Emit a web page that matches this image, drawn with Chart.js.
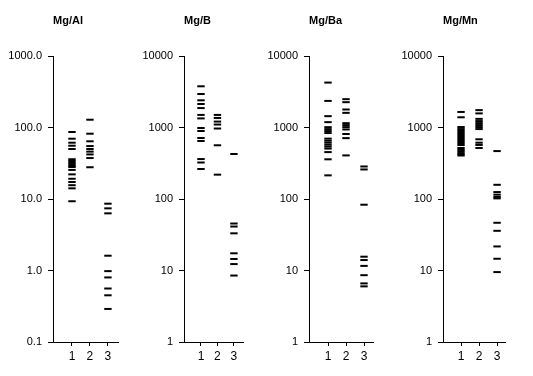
<!DOCTYPE html>
<html>
<head>
<meta charset="utf-8">
<script src="https://cdn.jsdelivr.net/npm/chart.js@4/dist/chart.umd.min.js"></script>
<style>
  html, body { margin: 0; padding: 0; background: #fff; }
  body { width: 533px; height: 376px; position: relative; overflow: hidden; }
  canvas { position: absolute; top: 0; }
</style>
</head>
<body>
<canvas id="c1" width="133" height="376" style="left:0px"></canvas>
<canvas id="c2" width="133" height="376" style="left:133px"></canvas>
<canvas id="c3" width="133" height="376" style="left:266px"></canvas>
<canvas id="c4" width="134" height="376" style="left:399px"></canvas>
<script>
// ---- data ----
const categories = [1, 2, 3];
const xTickLabels = ['1', '2', '3'];
const titles = ['Mg/Al', 'Mg/B', 'Mg/Ba', 'Mg/Mn'];
const yTicksAl = [0.1, 1, 10, 100, 1000];
const yTicksOther = [1, 10, 100, 1000, 10000];

const mgAl1 = [86.5, 69.7, 61.3, 55.6, 50, 36, 34, 32, 30.5, 29, 28, 25.5, 22.1, 19.2, 17.3, 15.6, 14.1, 9.3];
const mgAl2 = [128.5, 81.9, 64.1, 55, 50, 46, 42, 37.4, 27.8];
const mgAl3 = [8.6, 7.4, 6.3, 1.61, 0.98, 0.80, 0.56, 0.45, 0.29];

const mgB1 = [3770, 2940, 2400, 2130, 1870, 1500, 1340, 984, 893, 713, 647, 362, 324, 263];
const mgB2 = [1500, 1360, 1210, 1100, 968, 564, 219];
const mgB3 = [426, 45.4, 41.2, 33.1, 17.4, 14.5, 12.3, 8.5];

const mgBa1 = [4250, 2355, 1440, 1188, 1011, 949, 891, 836, 699, 655, 615, 576, 541, 507, 453, 359, 214];
const mgBa2 = [2490, 2260, 1786, 1603, 1150, 1080, 1012, 939, 811, 710, 407];
const mgBa3 = [285, 259, 83.2, 15.6, 14.0, 11.6, 8.6, 6.6, 6.0];

const mgMn1 = [1650, 1390, 1015, 951, 893, 837, 785, 736, 690, 647, 607, 569, 517, 485, 455, 426, 406];
const mgMn2 = [1750, 1575, 1320, 1230, 1153, 1082, 1015, 951, 684, 613, 570, 517];
const mgMn3 = [468, 158, 125, 115, 107, 102, 46.5, 35.9, 21.7, 14.6, 9.5];

// ---- rendering ----
const panels = [
  { id: 'c1', title: titles[0], series: [mgAl1, mgAl2, mgAl3], yTicks: yTicksAl, fmt: v => v.toFixed(1),
    padR: 15, axisW: 53, xMin: -0.056, xMax: 3.56 },
  { id: 'c2', title: titles[1], series: [mgB1, mgB2, mgB3], yTicks: yTicksOther, fmt: v => String(v),
    padR: 23, axisW: 51, xMin: -0.03, xMax: 3.55 },
  { id: 'c3', title: titles[2], series: [mgBa1, mgBa2, mgBa3], yTicks: yTicksOther, fmt: v => String(v),
    padR: 26, axisW: 43, xMin: -0.056, xMax: 3.5 },
  { id: 'c4', title: titles[3], series: [mgMn1, mgMn2, mgMn3], yTicks: yTicksOther, fmt: v => String(v),
    padR: 28, axisW: 44, xMin: 0, xMax: 3.44 }
];

const FONT = 'Liberation Sans, Arial, Helvetica, sans-serif';

panels.forEach(p => {
  const datasets = p.series.map((vals, i) => ({
    data: vals.map(v => ({ x: categories[i], y: v })),
    pointStyle: 'line',
    pointRadius: 3.7,
    pointHoverRadius: 3.7,
    pointBorderWidth: 2,
    borderColor: '#000',
    backgroundColor: '#000',
    showLine: false
  }));
  new Chart(document.getElementById(p.id), {
    type: 'scatter',
    data: { datasets },
    options: {
      responsive: false,
      animation: false,
      devicePixelRatio: 1,
      layout: { padding: { left: 0, right: p.padR, top: 0, bottom: 0 } },
      plugins: {
        legend: { display: false },
        tooltip: { enabled: false },
        title: {
          display: true,
          text: p.title,
          fullSize: false,
          align: 'start',
          color: '#000',
          font: { family: FONT, size: 11, weight: 'bold', lineHeight: 1.2 },
          padding: { top: 14, bottom: 28.8 }
        }
      },
      scales: {
        x: {
          type: 'linear',
          min: p.xMin,
          max: p.xMax,
          afterBuildTicks: s => { s.ticks = categories.map(v => ({ value: v })); },
          afterFit: s => { s.height = 34; },
          border: { display: true, color: '#000', width: 1 },
          grid: { display: true, drawOnChartArea: false, drawTicks: true, tickLength: 4, color: '#000' },
          ticks: {
            color: '#000',
            padding: 3,
            maxRotation: 0,
            autoSkip: false,
            font: { family: FONT, size: 12 },
            callback: (v) => xTickLabels[categories.indexOf(v)] ?? ''
          }
        },
        y: {
          type: 'logarithmic',
          min: p.yTicks[0],
          max: p.yTicks[p.yTicks.length - 1],
          afterBuildTicks: s => { s.ticks = p.yTicks.map(v => ({ value: v })); },
          afterFit: s => { s.width = p.axisW; },
          border: { display: true, color: '#000', width: 1 },
          grid: { display: true, drawOnChartArea: false, drawTicks: true, tickLength: 5, color: '#000' },
          ticks: {
            color: '#000',
            padding: 6,
            autoSkip: false,
            font: { family: FONT, size: 11 },
            callback: (v) => p.fmt(v)
          }
        }
      }
    }
  });
});
</script>
</body>
</html>
